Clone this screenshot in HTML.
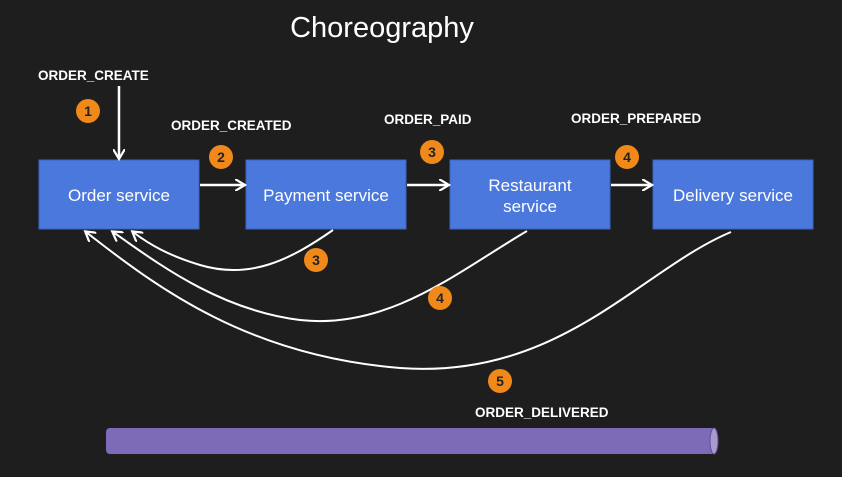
<!DOCTYPE html>
<html><head><style>
body{margin:0;background:#1e1e1e;}
svg{display:block}
.l{font-family:"Liberation Sans",sans-serif;font-weight:bold;font-size:13.5px;fill:#fff}
.b{font-family:"Liberation Sans",sans-serif;font-size:17px;fill:#fff}
.n{font-family:"Liberation Sans",sans-serif;font-size:14px;font-weight:bold;fill:#222}
</style></head><body>
<svg width="842" height="477" viewBox="0 0 842 477">
<defs><marker id="a" markerWidth="12" markerHeight="12" refX="9" refY="6" orient="auto" markerUnits="userSpaceOnUse"><path d="M0,0 L10,6 L0,12" fill="none" stroke="#fff" stroke-width="2.2"/></marker></defs>
<rect width="842" height="477" fill="#1e1e1e"/>
<text x="382" y="37" text-anchor="middle" font-family="Liberation Sans,sans-serif" font-size="29" fill="#fff">Choreography</text>
<g fill="#4a78dc" stroke="#3a64c0">
<rect x="39" y="160" width="160" height="69"/><rect x="246" y="160" width="160" height="69"/>
<rect x="450" y="160" width="160" height="69"/><rect x="653" y="160" width="160" height="69"/></g>
<text class="b" x="119" y="201" text-anchor="middle">Order service</text>
<text class="b" x="326" y="201" text-anchor="middle">Payment service</text>
<text class="b" x="530" y="191" text-anchor="middle">Restaurant</text>
<text class="b" x="530" y="212" text-anchor="middle">service</text>
<text class="b" x="733" y="201" text-anchor="middle">Delivery service</text>
<g stroke="#fff" stroke-width="2.5" fill="none" marker-end="url(#a)">
<line x1="119" y1="86" x2="119" y2="158"/>
<line x1="200" y1="185" x2="244" y2="185"/>
<line x1="407" y1="185" x2="448" y2="185"/>
<line x1="611" y1="185" x2="651" y2="185"/>
</g>
<g stroke="#fff" stroke-width="2" fill="none" marker-end="url(#a)">
<path d="M333,230 C290,260 250,280 200,265 C170,256 150,245 133,232"/>
<path d="M527,231 C460,270 390,330 300,320 C220,310 160,265 113,232"/>
<path d="M731,232 C640,270 560,380 400,368 C250,356 160,290 86,232"/>
</g>
<g fill="#f0891a">
<circle cx="88" cy="111" r="12"/><circle cx="221" cy="157" r="12"/><circle cx="432" cy="152" r="12"/>
<circle cx="627" cy="157" r="12"/><circle cx="316" cy="260" r="12"/><circle cx="440" cy="298" r="12"/><circle cx="500" cy="381" r="12"/></g>
<g class="n" text-anchor="middle">
<text class="n" x="88" y="116">1</text><text class="n" x="221" y="162">2</text><text class="n" x="432" y="157">3</text>
<text class="n" x="627" y="162">4</text><text class="n" x="316" y="265">3</text><text class="n" x="440" y="303">4</text><text class="n" x="500" y="386">5</text></g>
<text class="l" x="38" y="80">ORDER_CREATE</text>
<text class="l" x="171" y="130">ORDER_CREATED</text>
<text class="l" x="384" y="124">ORDER_PAID</text>
<text class="l" x="571" y="123">ORDER_PREPARED</text>
<text class="l" x="475" y="417">ORDER_DELIVERED</text>
<rect x="106" y="428" width="610" height="26" rx="4" fill="#7e6bb8"/>
<ellipse cx="714" cy="441" rx="4" ry="13" fill="#a89ad0" stroke="#5d4e94"/>
</svg>
</body></html>
